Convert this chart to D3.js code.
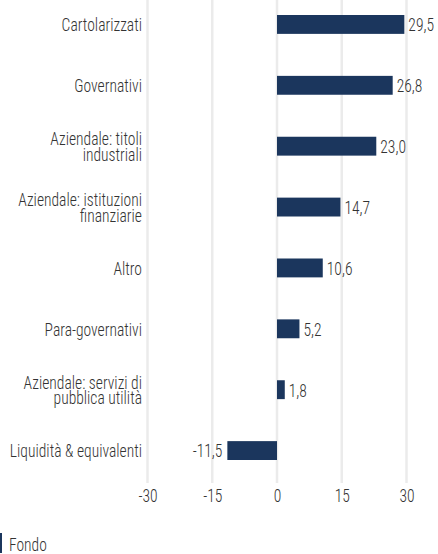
<!DOCTYPE html>
<html>
<head>
<meta charset="utf-8">
<script src="https://cdn.jsdelivr.net/npm/d3@7"></script>
<style>
  body { margin: 0; background: #fff; }
  svg text { font-family: "Roboto Condensed", "Liberation Sans Narrow", "DejaVu Sans Condensed", sans-serif; font-weight: 300; fill: #333; }
</style>
</head>
<body>
<svg id="chart" width="438" height="554"></svg>
<script>
// data
const categories = [
    ["Cartolarizzati"],
    ["Governativi"],
    ["Aziendale: titoli", "industriali"],
    ["Aziendale: istituzioni", "finanziarie"],
    ["Altro"],
    ["Para-governativi"],
    ["Aziendale: servizi di", "pubblica utilità"],
    ["Liquidità & equivalenti"]
];
const values = [29.5, 26.8, 23.0, 14.7, 10.6, 5.2, 1.8, -11.5];
const ticks = [-30, -15, 0, 15, 30];
const seriesName = "Fondo";

const svg = d3.select("#chart");
const navy = "#1b365d";
const fs = "19px";
const sx = 0.82; // squeeze text horizontally, the original font is very narrow
const fmt = v => d3.format(".1f")(v).replace("−", "-").replace(".", ",");

const x = d3.scaleLinear().domain([-30, 30]).range([147.5, 406.5]);
const y = d3.scaleBand().domain(d3.range(values.length)).range([-6, 481])
    .paddingInner(0.69).paddingOuter(0.345);

const g = svg.append("g");

// gridlines
g.selectAll("line.grid")
    .data(ticks)
    .join("line")
    .attr("class", "grid")
    .attr("x1", d => x(d)).attr("x2", d => x(d))
    .attr("y1", 0).attr("y2", 483)
    .attr("stroke", "#ebebeb")
    .attr("stroke-width", 2.5);

// bars
g.selectAll("rect.bar")
    .data(values)
    .join("rect")
    .attr("class", "bar")
    .attr("x", d => x(Math.min(0, d)))
    .attr("width", d => Math.abs(x(d) - x(0)))
    .attr("y", (d, i) => y(i))
    .attr("height", y.bandwidth())
    .attr("fill", navy);

// value labels
g.selectAll("text.val")
    .data(values)
    .join("text")
    .attr("class", "val")
    .attr("transform", (d, i) => `translate(${d < 0 ? x(d) - 5 : x(d) + 4},${y(i) + y.bandwidth() / 2}) scale(${sx},1)`)
    .attr("dy", "0.36em")
    .attr("text-anchor", d => d < 0 ? "end" : "start")
    .style("font-size", fs)
    .text(fmt);

// category labels
const cat = g.selectAll("text.cat")
    .data(categories)
    .join("text")
    .attr("class", "cat")
    .attr("text-anchor", "end")
    .attr("transform", (d, i) => `translate(142,${y(i) + y.bandwidth() / 2}) scale(${sx},1)`)
    .style("font-size", fs);
cat.selectAll("tspan")
    .data(d => d.map((t, j) => ({t, j, n: d.length})))
    .join("tspan")
    .attr("x", 0)
    .attr("y", d => (d.j - (d.n - 1) / 2) * 15.5)
    .attr("dy", "0.36em")
    .text(d => d.t);

// x axis
const axis = g.append("g")
    .attr("transform", "translate(0,483)")
    .call(d3.axisBottom(x).tickValues(ticks).tickSize(0).tickPadding(6).tickFormat(d => String(d)));
axis.select(".domain").remove();
axis.selectAll("text")
    .style("font-size", fs)
    .attr("fill", "#333")
    .attr("transform", `scale(${sx},1)`);

// legend
const leg = svg.append("g").attr("transform", "translate(0,533)");
leg.append("rect").attr("width", 2).attr("height", 20).attr("fill", navy);
leg.append("text").attr("transform", `translate(9,17.5) scale(${sx},1)`).style("font-size", "19px").text(seriesName);
</script>
</body>
</html>
